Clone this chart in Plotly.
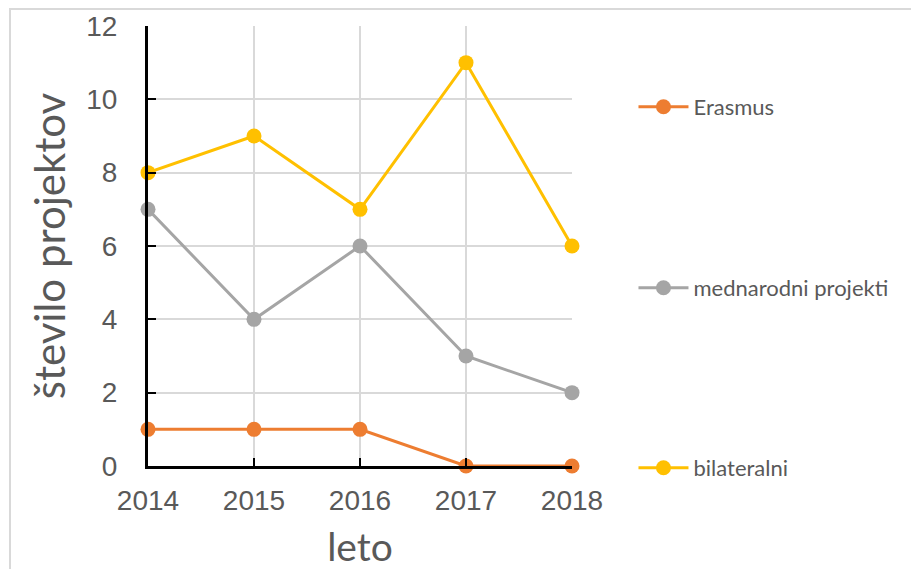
import plotly.graph_objects as go

years = ["2014", "2015", "2016", "2017", "2018"]
erasmus = [1, 1, 1, 0, 0]
mednarodni = [7, 4, 6, 3, 2]
bilateralni = [8, 9, 7, 11, 6]
y_ticks = [0, 2, 4, 6, 8, 10, 12]

series = [
    ("Erasmus", erasmus, "#ED7D31", "legend", 0.816),
    ("mednarodni projekti", mednarodni, "#A5A5A5", "legend2", 0.4045),
    ("bilateralni", bilateralni, "#FFC000", "legend3", -0.0045),
]

fig = go.Figure()
for name, vals, col, lg, _ in series:
    fig.add_trace(go.Scatter(
        x=years, y=vals, name=name, mode="lines+markers",
        line=dict(color=col, width=3),
        marker=dict(color=col, size=15),
        cliponaxis=False, legend=lg,
    ))

legend_font = dict(family="Lato, Open Sans, sans-serif", size=22, color="#595959")
legends = {}
for name, vals, col, lg, ypos in series:
    legends[lg] = dict(x=1.145, y=ypos, xanchor="left", yanchor="middle",
                       font=legend_font, bgcolor="rgba(0,0,0,0)",
                       itemwidth=50, borderwidth=0)

tick_font = dict(family="Liberation Sans, Arial", size=28, color="#595959")

fig.update_layout(
    width=919, height=569,
    margin=dict(l=140, r=355, t=18, b=111, autoexpand=False),
    paper_bgcolor="white", plot_bgcolor="white",
    showlegend=True,
    **legends,
    xaxis=dict(
        type="category", range=[0, 4], automargin=False,
        showgrid=True, gridcolor="#D9D9D9", gridwidth=1.5,
        showline=True, linecolor="black", linewidth=3,
        ticks="inside", ticklen=8, tickwidth=2, tickcolor="black",
        tickfont=tick_font,
        ticklabelstandoff=7,
        title=dict(text="leto", font=dict(family="Lato, Open Sans, sans-serif", size=39, color="#595959"), standoff=20),
        zeroline=False,
    ),
    yaxis=dict(
        range=[0, 12], tickvals=y_ticks, automargin=False,
        showgrid=True, gridcolor="#D9D9D9", gridwidth=1.5,
        showline=True, linecolor="black", linewidth=3,
        ticks="inside", ticklen=8, tickwidth=2, tickcolor="black",
        tickfont=tick_font,
        ticklabelstandoff=22,
        title=dict(text="število projektov", font=dict(family="Lato, Open Sans, sans-serif", size=42, color="#595959"), standoff=8),
        zeroline=False,
    ),
    shapes=[dict(type="rect", xref="paper", yref="paper",
                 x0=-0.3255, x1=1.9, y0=-0.3, y1=1.0386,
                 line=dict(color="#D9D9D9", width=2), fillcolor="rgba(0,0,0,0)", layer="below")],
)

fig.write_html("out.html")
